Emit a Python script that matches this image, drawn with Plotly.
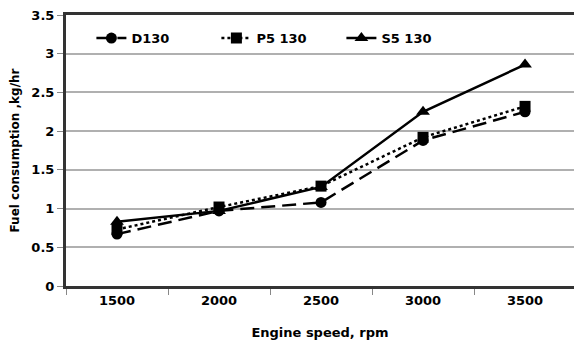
import plotly.graph_objects as go

speeds = [1500, 2000, 2500, 3000, 3500]
d130 = [0.67, 0.97, 1.08, 1.88, 2.25]
p5_130 = [0.73, 1.02, 1.29, 1.92, 2.32]
s5_130 = [0.83, 0.97, 1.28, 2.25, 2.86]
y_ticks = [0, 0.5, 1, 1.5, 2, 2.5, 3, 3.5]
y_labels = ["0", "0.5", "1", "1.5", "2", "2.5", "3", "3.5"]

FONT = "DejaVu Sans"
fig = go.Figure()
fig.add_trace(go.Scatter(x=speeds, y=d130, name="D130", mode="lines+markers",
                         line=dict(color="black", width=2.5, dash="14px,7px"),
                         marker=dict(symbol="circle", size=11, color="black")))
fig.add_trace(go.Scatter(x=speeds, y=p5_130, name="P5 130", mode="lines+markers",
                         line=dict(color="black", width=2.5, dash="dot"),
                         marker=dict(symbol="square", size=11, color="black")))
fig.add_trace(go.Scatter(x=speeds, y=s5_130, name="S5 130", mode="lines+markers",
                         line=dict(color="black", width=2.5),
                         marker=dict(symbol="triangle-up", size=12, color="black")))

fig.update_layout(
    width=574, height=347,
    margin=dict(l=66, r=0, t=15, b=61),
    plot_bgcolor="white", paper_bgcolor="white",
    font=dict(family=FONT, size=12, color="black", weight="bold"),
    showlegend=True,
    legend=dict(orientation="h", x=0.05, y=0.97, xanchor="left", yanchor="top",
                bgcolor="rgba(0,0,0,0)", entrywidth=80, entrywidthmode="pixels",
                font=dict(family=FONT, size=13, weight="bold"), itemwidth=30),
)
fig.update_xaxes(
    range=[1250, 3740], tickvals=speeds, ticktext=[str(s) for s in speeds],
    ticks="", showgrid=False, zeroline=False,
    showline=True, linecolor="#333333", linewidth=3, mirror=True,
    tickfont=dict(family=FONT, size=13, weight="bold"),
    minor=dict(tick0=1250, dtick=500, ticks="outside", ticklen=6, tickcolor="#888888", showgrid=False),
    title=dict(text="Engine speed, rpm", font=dict(family=FONT, size=13, weight="bold"), standoff=22),
)
fig.update_yaxes(
    range=[0, 3.5], tickvals=y_ticks, ticktext=y_labels,
    ticks="outside", ticklen=6, tickcolor="#888888",
    showgrid=True, gridcolor="#b0b0b0", gridwidth=1.5, zeroline=False,
    showline=True, linecolor="#333333", linewidth=3,
    tickfont=dict(family=FONT, size=13, weight="bold"),
    title=dict(text="Fuel consumption ,kg/hr", font=dict(family=FONT, size=12, weight="bold"), standoff=10),
)
fig.write_html("out.html")
